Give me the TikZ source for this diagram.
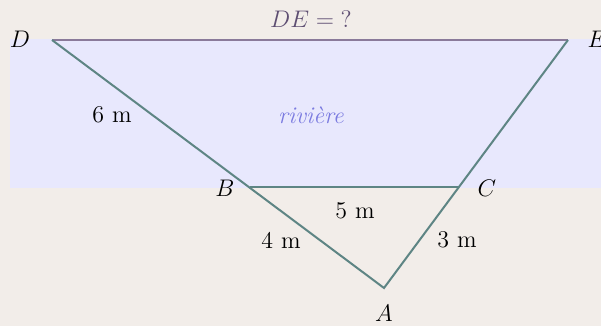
\documentclass[tikz,border=0pt,12pt]{standalone}
\usepackage{tikz}
\definecolor{fond}{HTML}{F2EDE9}
\definecolor{eau}{HTML}{E8E8FD}
\definecolor{vertgris}{HTML}{5E8584}
\definecolor{rive}{HTML}{8A7A9A}
\definecolor{textrive}{HTML}{5E4E72}
\definecolor{texteau}{HTML}{7B7BE0}
\tikzset{trait/.style={line width=1pt,draw=vertgris}}
\tikzset{lbl/.style={inner sep=1pt}}

\begin{document}
\begin{tikzpicture}[x=.5pt,y=-.5pt]
\clip(0,0)rectangle(601,326);\fill[fond](0,0)rectangle(601,326);
\fill[eau](10,39)rectangle(601,188);
\coordinate(D)at(52,40);\coordinate(E)at(568,40);\coordinate(A)at(384,288);\coordinate(B)at(250,187);\coordinate(C)at(458,187);
\draw[line width=1pt,rive](D)--(E);
\draw[trait](D)--(A)--(E);\draw[trait](B)--(C);
\node[lbl](nD)at(20,39){$D$};\node[lbl](nE)at(597,39){$E$};\node[lbl](nA)at(384,313){$A$};\node[lbl](nB)at(225,188){$B$};\node[lbl](nC)at(487,188){$C$};
\node[lbl,text=textrive](nDE)at(311,19){$DE = \mathord{?}$};
\node[lbl,text=texteau](nriv)at(311,115){\textit{rivière}};
\node[lbl](n6)at(112,115){6 m};\node[lbl](n5)at(355,211){5 m};\node[lbl](n4)at(281,240){4 m};\node[lbl](n3)at(457,240){3 m};
\end{tikzpicture}
\end{document}
